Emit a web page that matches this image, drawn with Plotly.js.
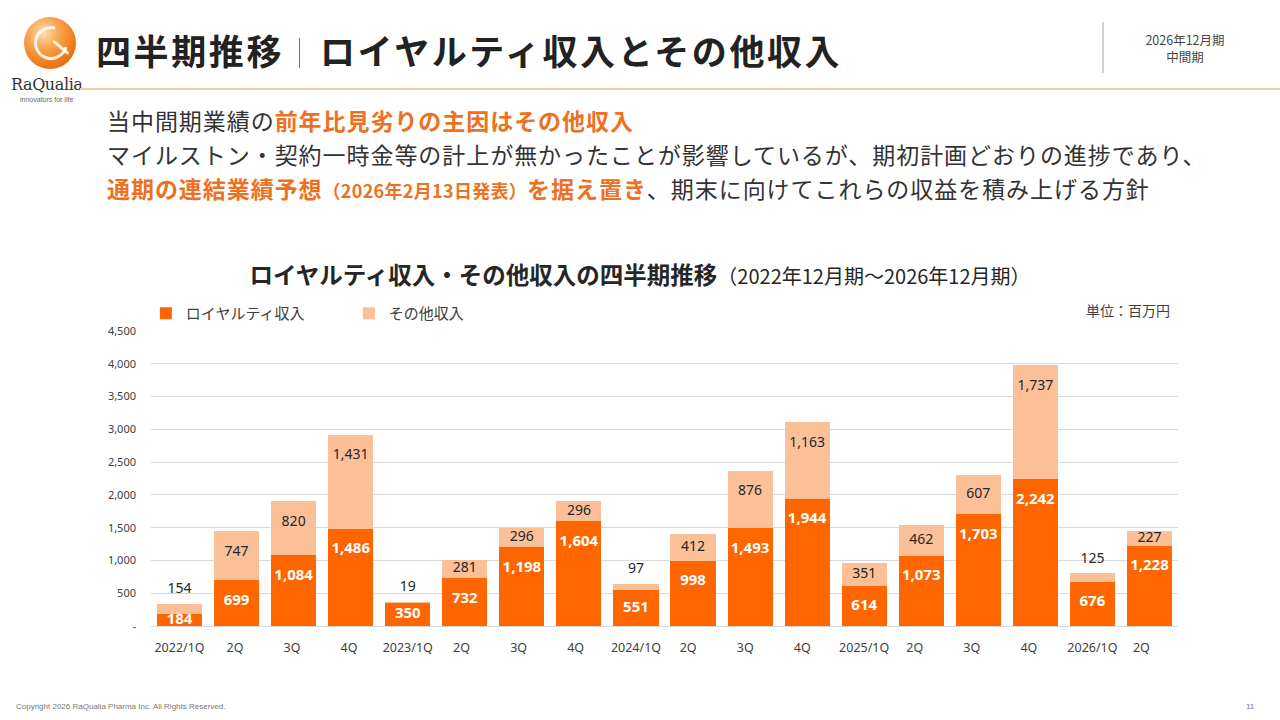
<!DOCTYPE html>
<html>
<head>
<meta charset="utf-8">
<script src="https://cdn.plot.ly/plotly-3.0.1.min.js"></script>
<style>
  html, body { margin: 0; padding: 0; background: #fff; }
  body { width: 1280px; height: 720px; position: relative; overflow: hidden;
         font-family: "Noto Sans CJK JP", "Noto Sans", sans-serif; color: #333; }
  .abs { position: absolute; white-space: nowrap; }
  #logo { left: 24px; top: 17px; width: 52px; height: 52px; border-radius: 50%;
          background: radial-gradient(circle at 38% 30%, #ffe0b5 0%, #f8a650 32%, #ea7712 70%, #c95a08 100%); }
  #logo .ring { position: absolute; left: 10px; top: 9px; width: 28px; height: 28px; border-radius: 50%;
          border: 3px solid rgba(255,255,255,0.85); border-right-color: transparent; transform: rotate(-30deg); }
  #logo .tail { position: absolute; left: 27px; top: 29px; width: 20px; height: 3px; background: rgba(255,255,255,0.85);
          transform: rotate(40deg); border-radius: 2px; }
  #brand { left: 11px; top: 75px; font-family: "DejaVu Serif", "Liberation Serif", serif; font-size: 16px; color: #333; letter-spacing: -0.4px; }
  #tag { left: 20px; top: 96px; font-family: "Liberation Sans", sans-serif; font-size: 7px; color: #666; }
  #title { left: 96px; top: 24px; font-size: 35px; font-weight: 700; color: #222; letter-spacing: 2.6px; }
  #title .sep { display: inline-block; width: 1px; height: 30px; background: #777; margin: 0 20px 0 15px; vertical-align: -3px; }
  #rule { left: 80px; top: 88px; width: 1200px; height: 2px; background: #f5cca8; }
  #vline { left: 1102px; top: 22px; width: 2px; height: 51px; background: #d0d0d0; }
  #period { left: 1130px; top: 31px; width: 110px; text-align: center; font-size: 12.5px; line-height: 17px; color: #444; }
  .body { left: 107px; font-size: 23px; color: #333; letter-spacing: 0.95px; }
  .hl { color: #ed7120; font-weight: 700; }
  .hl small { font-size: 18px; letter-spacing: 0.3px; }
  #copy { left: 16px; top: 702px; font-family: "Liberation Sans", sans-serif; font-size: 8px; color: #777; }
  #page { left: 1246px; top: 702px; font-family: "Liberation Sans", sans-serif; font-size: 8px; color: #777; }
  #chart { position: absolute; left: 0; top: 250px; width: 1280px; height: 420px; }
</style>
</head>
<body>
<div id="logo" class="abs"><div class="ring"></div><div class="tail"></div></div>
<div id="brand" class="abs">RaQualia</div>
<div id="tag" class="abs">innovators for life</div>
<div id="title" class="abs">四半期推移<span class="sep"></span>ロイヤルティ収入とその他収入</div>
<div id="rule" class="abs"></div>
<div id="vline" class="abs"></div>
<div id="period" class="abs">2026年12月期<br>中間期</div>
<div class="abs body" style="top:103px">当中間期業績の<span class="hl">前年比見劣りの主因はその他収入</span></div>
<div class="abs body" style="top:137px">マイルストン・契約一時金等の計上が無かったことが影響しているが、期初計画どおりの進捗であり、</div>
<div class="abs body" style="top:171px"><span class="hl">通期の連結業績予想<small>（2026年2月13日発表）</small>を据え置き</span>、期末に向けてこれらの収益を積み上げる方針</div>
<div id="chart"></div>
<div id="copy" class="abs">Copyright 2026 RaQualia Pharma Inc. All Rights Reserved.</div>
<div id="page" class="abs">11</div>
<script>
const quarters = ["2022/1Q", "2Q ", "3Q ", "4Q ", "2023/1Q", "2Q  ", "3Q  ", "4Q  ", "2024/1Q", "2Q   ", "3Q   ", "4Q   ",
                  "2025/1Q", "2Q    ", "3Q    ", "4Q    ", "2026/1Q", "2Q     "];
const royalty = [184, 699, 1084, 1486, 350, 732, 1198, 1604, 551, 998, 1493, 1944, 614, 1073, 1703, 2242, 676, 1228];
const other = [154, 747, 820, 1431, 19, 281, 296, 296, 97, 412, 876, 1163, 351, 462, 607, 1737, 125, 227];
const yTicks = [0, 500, 1000, 1500, 2000, 2500, 3000, 3500, 4000, 4500];

const numFont = "Noto Sans, Open Sans, sans-serif";
const jpFont = "Noto Sans CJK JP, sans-serif";
const fmt = v => v.toLocaleString('en-US');

// labels sit a fixed step below the top of each segment (no lower than its middle),
// tiny "other" values go above the stack
const DROP = 320, RISE = 215, SMALL = 200;
const totals = royalty.map((r, i) => r + other[i]);
const royaltyLabelY = royalty.map(r => Math.max(r - DROP, r / 2));
const otherLabelY = other.map((o, i) => o < SMALL ? totals[i] + RISE : Math.max(totals[i] - DROP, royalty[i] + o / 2));

const royaltyTrace = {
  x: quarters, y: royalty, type: 'bar', name: 'ロイヤルティ収入',
  marker: { color: '#ff6600' }, hoverinfo: 'none'
};
const otherTrace = {
  x: quarters, y: other, type: 'bar', name: 'その他収入',
  marker: { color: '#fbc097' }, hoverinfo: 'none'
};
const royaltyText = {
  x: quarters, y: royaltyLabelY, type: 'scatter', mode: 'text', showlegend: false,
  text: royalty.map(fmt), textposition: 'middle center', cliponaxis: false, hoverinfo: 'none',
  textfont: { family: numFont, size: 15, color: '#ffffff', weight: 700 }
};
const otherText = {
  x: quarters, y: otherLabelY, type: 'scatter', mode: 'text', showlegend: false,
  text: other.map(fmt), textposition: 'middle center', cliponaxis: false, hoverinfo: 'none',
  textfont: { family: numFont, size: 14, color: '#262626' }
};

const layout = {
  width: 1280, height: 420,
  margin: { l: 151, r: 102, t: 81, b: 44 },
  paper_bgcolor: '#ffffff', plot_bgcolor: '#ffffff',
  barmode: 'stack', bargap: 0.21,
  font: { family: numFont, color: '#404040' },
  title: {
    text: '<b>ロイヤルティ収入・その他収入の四半期推移</b><span style="font-size:20px">（2022年12月期～2026年12月期）</span>',
    font: { family: jpFont, size: 23.5, color: '#262626' },
    x: 0.5, xanchor: 'center', y: 1 - 26 / 420, yanchor: 'middle'
  },
  showlegend: true,
  legend: {
    orientation: 'h', x: -0.005, xanchor: 'left', y: 1.003, yanchor: 'bottom',
    traceorder: 'normal', entrywidth: 158, entrywidthmode: 'pixels', itemwidth: 30,
    font: { family: jpFont, size: 15, color: '#404040' }, itemclick: false
  },
  xaxis: {
    type: 'category', range: [-0.5, quarters.length - 0.5],
    tickfont: { family: numFont, size: 12.5, color: '#404040' },
    showgrid: false, showline: false, zeroline: false, ticks: '', ticklabelstandoff: 12
  },
  yaxis: {
    range: [0, 4500], tickvals: yTicks,
    ticktext: yTicks.map(v => v === 0 ? '-' : fmt(v)),
    tickfont: { family: numFont, size: 11, color: '#404040' },
    gridcolor: '#d9d9d9', gridwidth: 1, zeroline: true, zerolinecolor: '#d9d9d9', zerolinewidth: 1,
    showline: false, ticks: '', ticklabelstandoff: 14
  },
  annotations: [{
    text: '単位：百万円', xref: 'paper', yref: 'paper', x: 1 - 6 / 1027, xanchor: 'right', y: 1.032, yanchor: 'bottom',
    showarrow: false, font: { family: jpFont, size: 14, color: '#404040' }
  }]
};

Plotly.newPlot('chart', [royaltyTrace, otherTrace, royaltyText, otherText], layout, { staticPlot: true, displayModeBar: false });
</script>
</body>
</html>
